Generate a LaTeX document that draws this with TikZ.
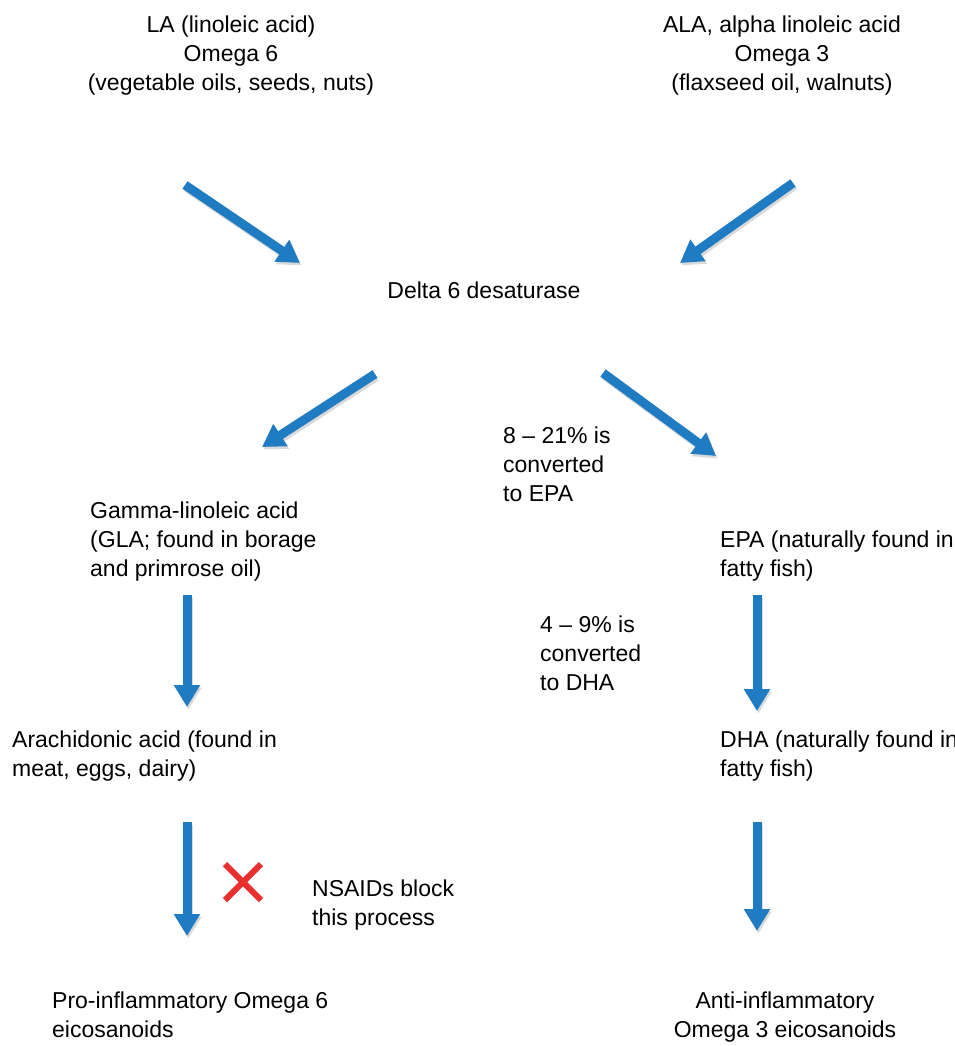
\documentclass[tikz,border=0pt]{standalone}
\usepackage{fontspec}
\setmainfont{Liberation Sans}
\usetikzlibrary{arrows.meta}
\definecolor{arrowblue}{HTML}{1F7CC3}
\definecolor{xred}{HTML}{E8312F}
\begin{document}
\begin{tikzpicture}[x=1pt,y=-1pt,
  lbl/.style={inner sep=0pt, font=\fontsize{23}{29}\selectfont},
  lblL/.style={lbl, align=left, anchor=north west},
  lblC/.style={lbl, align=center, anchor=north},
  flow/.style={draw=arrowblue, line width=9pt, -{Triangle[width=25pt,length=22pt]}},
  shade/.style={draw=black!15, line width=9pt, -{Triangle[width=25pt,length=22pt]}},
  cross/.style={draw=xred, line width=6pt}]
\useasboundingbox[fill=white] (0,0) rectangle (955,1046);
% texts
\node[lblC] (la) at (231,16) {LA (linoleic acid)\\Omega 6\\(vegetable oils, seeds, nuts)};
\node[lblC] (ala) at (782,16) {ALA, alpha linoleic acid\\Omega 3\\(flaxseed oil, walnuts)};
\node[lbl] (d6) at (484,290) {Delta 6 desaturase};
\node[lblL] (p821) at (503,427) {8 – 21\% is\\converted\\to EPA};
\node[lblL] (gla) at (90,502) {Gamma-linoleic acid\\(GLA; found in borage\\and primrose oil)};
\node[lblL] (epa) at (720,531) {EPA (naturally found in\\fatty fish)};
\node[lblL] (p49) at (540,616) {4 – 9\% is\\converted\\to DHA};
\node[lblL] (ara) at (12,731) {Arachidonic acid (found in\\meat, eggs, dairy)};
\node[lblL] (dha) at (720,731) {DHA (naturally found in\\fatty fish)};
\node[lblL] (nsaid) at (312,880) {NSAIDs block\\this process};
\node[lblL] (pro) at (52,992) {Pro-inflammatory Omega 6\\eicosanoids};
\node[lblC] (anti) at (785,992) {Anti-inflammatory\\Omega 3 eicosanoids};
% arrow end points
\coordinate (a1s) at (185,185); \coordinate (a1e) at (300,263);
\coordinate (a2s) at (793,183); \coordinate (a2e) at (680,263);
\coordinate (a3s) at (375,374); \coordinate (a3e) at (262,447);
\coordinate (a4s) at (603,373); \coordinate (a4e) at (716,456);
\coordinate (a5s) at (187,595); \coordinate (a5e) at (187,707);
\coordinate (a6s) at (757,595); \coordinate (a6e) at (757,711);
\coordinate (a7s) at (187,822); \coordinate (a7e) at (187,936);
\coordinate (a8s) at (757,822); \coordinate (a8e) at (757,931);
% shadows
\foreach \s/\e in {a1s/a1e,a2s/a2e,a3s/a3e,a4s/a4e,a5s/a5e,a6s/a6e,a7s/a7e,a8s/a8e}{
  \draw[shade] ([shift={(1.5,2.5)}]\s) -- ([shift={(1.5,2.5)}]\e);
}
% arrows
\foreach \s/\e in {a1s/a1e,a2s/a2e,a3s/a3e,a4s/a4e,a5s/a5e,a6s/a6e,a7s/a7e,a8s/a8e}{
  \draw[flow] (\s) -- (\e);
}
% red cross
\coordinate (xc) at (243,882);
\draw[cross] ([shift={(-18,-18)}]xc) -- ([shift={(18,18)}]xc);
\draw[cross] ([shift={(18,-18)}]xc) -- ([shift={(-18,18)}]xc);
\end{tikzpicture}
\end{document}
